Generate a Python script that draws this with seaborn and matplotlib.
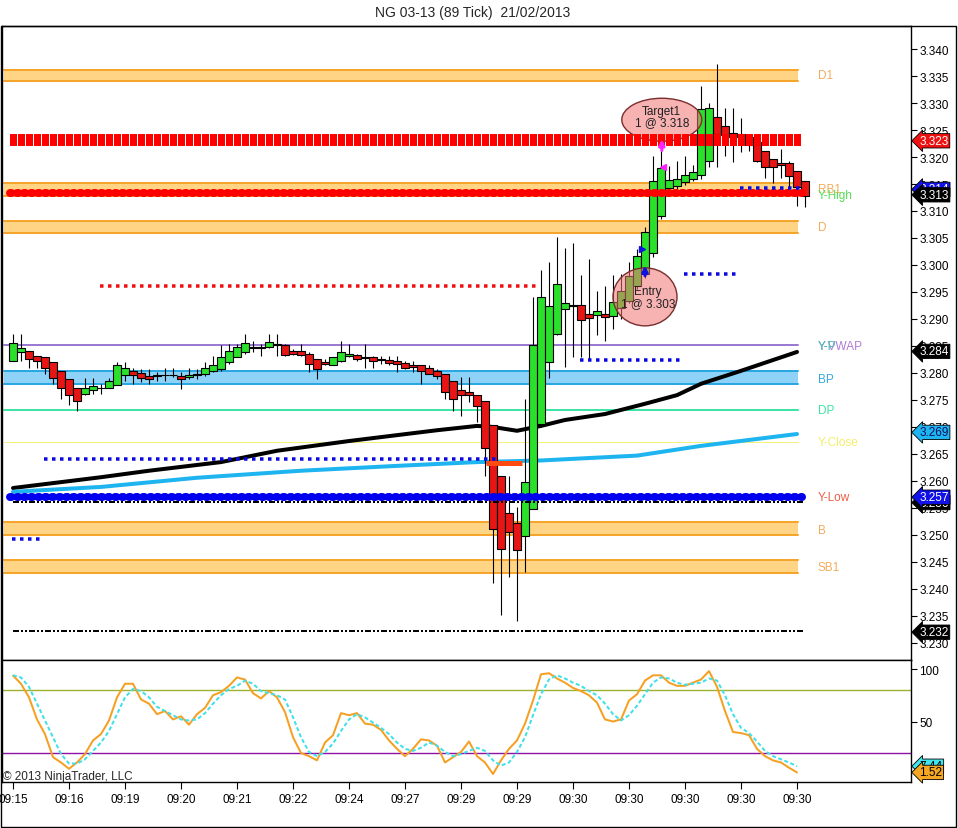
import matplotlib
matplotlib.use("Agg")
import matplotlib.pyplot as plt
import numpy as np
import pandas as pd
import seaborn as sns
from matplotlib.patches import Ellipse, Rectangle

sns.set_theme(style="white")
plt.rcParams["font.family"] = ["Liberation Sans", "DejaVu Sans"]
plt.rcParams["lines.scale_dashes"] = False
plt.rcParams["axes.unicode_minus"] = False

# ---------------- data ----------------
title = "NG 03-13 (89 Tick)  21/02/2013"

bar_open = [3.2822, 3.2838, 3.2841, 3.2832, 3.2829, 3.2821, 3.2804, 3.2788, 3.2772, 3.2761,
            3.2769, 3.2772, 3.2772, 3.2778, 3.2796, 3.2803, 3.2800, 3.2795, 3.2794, 3.2796,
            3.2797, 3.2795, 3.2792, 3.2797, 3.2798, 3.2803, 3.2807, 3.2820, 3.2830, 3.2838,
            3.2848, 3.2846, 3.2848, 3.2854, 3.2851, 3.2841, 3.2840, 3.2836, 3.2825, 3.2820,
            3.2815, 3.2823, 3.2832, 3.2833, 3.2829, 3.2829, 3.2826, 3.2824, 3.2822, 3.2819,
            3.2814, 3.2814, 3.2809, 3.2803, 3.2799, 3.2786, 3.2769, 3.2764, 3.2760, 3.2749,
            3.2704, 3.2609, 3.2540, 3.2523, 3.2499, 3.2548, 3.2706, 3.2820, 3.2872, 3.2918,
            3.2926, 3.2925, 3.2909, 3.2907, 3.2909, 3.2906, 3.2920, 3.2934, 3.2962, 3.2983,
            3.3023, 3.3091, 3.3142, 3.3147, 3.3153, 3.3160, 3.3167, 3.3193, 3.3274, 3.3258,
            3.3245, 3.3243, 3.3237, 3.3227, 3.3212, 3.3196, 3.3188, 3.3188, 3.3175, 3.3156]
bar_high = [3.2872, 3.2872, 3.2841, 3.2832, 3.2829, 3.2821, 3.2804, 3.2788, 3.2772, 3.2790,
            3.2790, 3.2780, 3.2790, 3.2821, 3.2821, 3.2810, 3.2807, 3.2807, 3.2801, 3.2810,
            3.2810, 3.2801, 3.2810, 3.2807, 3.2820, 3.2832, 3.2851, 3.2854, 3.2854, 3.2872,
            3.2860, 3.2854, 3.2872, 3.2872, 3.2854, 3.2844, 3.2854, 3.2838, 3.2826, 3.2826,
            3.2830, 3.2860, 3.2854, 3.2835, 3.2854, 3.2832, 3.2832, 3.2832, 3.2832, 3.2823,
            3.2823, 3.2814, 3.2814, 3.2807, 3.2799, 3.2786, 3.2792, 3.2792, 3.2760, 3.2749,
            3.2704, 3.2609, 3.2610, 3.2551, 3.2752, 3.2940, 3.2991, 3.3005, 3.3051, 3.3031,
            3.3041, 3.2981, 3.3011, 3.2952, 3.2962, 3.2981, 3.2983, 3.3005, 3.3030, 3.3070,
            3.3201, 3.3212, 3.3184, 3.3193, 3.3201, 3.3185, 3.3332, 3.3300, 3.3372, 3.3290,
            3.3290, 3.3272, 3.3243, 3.3233, 3.3212, 3.3196, 3.3215, 3.3192, 3.3175, 3.3156]
bar_low = [3.2822, 3.2822, 3.2810, 3.2810, 3.2798, 3.2780, 3.2751, 3.2741, 3.2730, 3.2759,
           3.2761, 3.2761, 3.2772, 3.2778, 3.2786, 3.2780, 3.2783, 3.2780, 3.2786, 3.2786,
           3.2792, 3.2770, 3.2789, 3.2789, 3.2795, 3.2801, 3.2804, 3.2817, 3.2829, 3.2835,
           3.2838, 3.2832, 3.2847, 3.2832, 3.2832, 3.2833, 3.2832, 3.2801, 3.2789, 3.2814,
           3.2814, 3.2820, 3.2829, 3.2823, 3.2810, 3.2810, 3.2817, 3.2814, 3.2801, 3.2807,
           3.2801, 3.2780, 3.2798, 3.2789, 3.2752, 3.2730, 3.2721, 3.2746, 3.2709, 3.2610,
           3.2411, 3.2351, 3.2422, 3.2340, 3.2431, 3.2548, 3.2700, 3.2790, 3.2870, 3.2811,
           3.2830, 3.2830, 3.2826, 3.2870, 3.2860, 3.2881, 3.2900, 3.2930, 3.2955, 3.2975,
           3.3015, 3.3085, 3.3130, 3.3140, 3.3148, 3.3155, 3.3160, 3.3181, 3.3181, 3.3201,
           3.3191, 3.3210, 3.3212, 3.3190, 3.3162, 3.3152, 3.3162, 3.3144, 3.3110, 3.3107]
bar_close = [3.2855, 3.2846, 3.2825, 3.2823, 3.2810, 3.2790, 3.2772, 3.2759, 3.2748, 3.2773,
             3.2775, 3.2773, 3.2786, 3.2814, 3.2809, 3.2796, 3.2790, 3.2789, 3.2797, 3.2797,
             3.2796, 3.2788, 3.2797, 3.2798, 3.2809, 3.2814, 3.2829, 3.2840, 3.2848, 3.2855,
             3.2846, 3.2848, 3.2858, 3.2852, 3.2833, 3.2836, 3.2833, 3.2817, 3.2807, 3.2817,
             3.2829, 3.2838, 3.2836, 3.2826, 3.2827, 3.2823, 3.2824, 3.2819, 3.2817, 3.2810,
             3.2812, 3.2803, 3.2798, 3.2794, 3.2765, 3.2752, 3.2759, 3.2759, 3.2738, 3.2661,
             3.2511, 3.2474, 3.2505, 3.2472, 3.2598, 3.2852, 3.2940, 3.2924, 3.2965, 3.2930,
             3.2924, 3.2898, 3.2901, 3.2915, 3.2903, 3.2931, 3.2951, 3.2980, 3.3016, 3.3061,
             3.3156, 3.3179, 3.3158, 3.3160, 3.3167, 3.3172, 3.3289, 3.3290, 3.3243, 3.3241,
             3.3237, 3.3237, 3.3222, 3.3193, 3.3181, 3.3181, 3.3186, 3.3164, 3.3144, 3.3127]

time_labels = ["09:15", "09:16", "09:19", "09:20", "09:21", "09:22", "09:24", "09:27",
               "09:29", "09:29", "09:30", "09:30", "09:30", "09:30", "09:30"]

# moving average (black) and VWAP (cyan) sampled at bars
ma_bars = [0, 11, 17, 26, 33, 42, 53, 58, 60, 63, 66, 69, 74, 79, 83, 86, 91, 98]
ma_black = [3.2587, 3.2607, 3.2619, 3.2635, 3.2656, 3.2674, 3.2694, 3.2702, 3.2700, 3.2693,
            3.2702, 3.2713, 3.2724, 3.2743, 3.2759, 3.2780, 3.2804, 3.2839]
vwap_bars = [0, 11, 23, 36, 48, 58, 66, 78, 86, 92, 98]
vwap_cyan = [3.2580, 3.2589, 3.2606, 3.2619, 3.2628, 3.2635, 3.2638, 3.2647, 3.2665, 3.2676, 3.2687]

# stochastics
stoch_k = [93.7, 86, 73, 52, 38, 16, 11, 5, 11, 19,
           32, 38, 51, 73, 86, 86, 71, 67, 57, 60,
           52, 55, 47, 57, 63, 75, 78, 84, 92, 90,
           77, 72, 79, 73, 59, 35, 20, 17, 13, 30,
           37, 58, 56, 58, 48, 47, 42, 32, 24, 17,
           24, 33, 32, 27, 11, 16, 21, 31, 17, 11,
           0, 13, 24, 32, 48, 70, 95, 96, 91, 87,
           82, 79, 75, 68, 52, 50, 52, 70, 76, 89,
           94, 94, 87, 84, 84, 87, 90, 98, 83, 60,
           40, 39, 37, 24, 17, 13, 11, 6, 1.52]
stoch_d = [94, 92, 83, 67, 51, 35, 19, 10, 10, 14,
           22, 30, 41, 57, 73, 81, 79, 73, 64, 60,
           56, 52, 51, 52, 58, 67, 75, 81, 84, 89,
           86, 79, 77, 75, 71, 54, 35, 21, 17, 21,
           29, 41, 52, 57, 54, 49, 44, 38, 30, 24,
           22, 25, 30, 27, 21, 17, 19, 22, 25, 22,
           13, 8, 11, 21, 35, 56, 76, 90, 94, 91,
           87, 84, 79, 75, 67, 57, 51, 56, 65, 76,
           87, 92, 91, 87, 85, 86, 87, 91, 89, 75,
           57, 44, 39, 31, 22, 17, 14, 11, 7.44]
stoch_upper, stoch_lower = 80, 20

# pivot / level bands
band_names = ["D1", "RB1", "D", "B", "SB1"]
band_lo = [3.3341, 3.3128, 3.3059, 3.2500, 3.2430]
band_hi = [3.3361, 3.3152, 3.3081, 3.2524, 3.2454]
bp_lo, bp_hi = 3.2780, 3.2804
y_vwap, dp_level, y_close = 3.2852, 3.2732, 3.2672
red_sq_level, red_dot_level = 3.3231, 3.3133
blue_thick_level = 3.2570
dashdot_levels = [3.2561, 3.2322]
blue_dot_levels = [3.3143, 3.2983, 3.2824, 3.2641, 3.2493]
blue_dot_start = [90.9, 83.9, 70.9, 3.9, -0.1]
blue_dot_end = [98.4, 90.5, 83.4, 60.4, 3.4]
red_dot_short = (10.9, 65.4, 3.2961)
orange_short = (59.1, 63.6, 3.2633)

label_names = ["D1", "RB1", "Y-High", "D", "Y-VWAP", "BP", "DP", "Y-Close", "Y-Low", "B", "SB1"]
label_prices = [3.3352, 3.3141, 3.3130, 3.3070, 3.2850, 3.2789, 3.2731, 3.2672, 3.2570, 3.2509, 3.2441]
label_colors = ["#F2AC5C", "#F2AC5C", "#55DD55", "#F2AC5C", "#B07AD6", "#3AA6DE",
                "#3FE3A5", "#F3EE6A", "#EE5E44", "#F2AC5C", "#F2AC5C"]

tag_values = [3.323, 3.314, 3.313, 3.284, 3.269, 3.256, 3.257, 3.232]
tag_face = ["#EE1111", "#1010E8", "#000000", "#000000", "#1EB4F0", "#000000", "#1010E8", "#000000"]
tag_text = ["white", "white", "white", "white", "#101060", "white", "white", "white"]
stoch_tag_values = [7.44, 1.52]
stoch_tag_face = ["#40E6EE", "#F5A623"]

# trade markers
entry = dict(bar=79.0, price=3.2941, text="Entry\n1 @ 3.303")
target = dict(bar=81.1, price=3.3269, text="Target1\n1 @ 3.318")

# ---------------- figure ----------------
W, H = 958, 829
P = 0.72  # points per pixel
fig = plt.figure(figsize=(W / 100, H / 100), dpi=100)
fig.patch.set_facecolor("white")
ax = fig.add_axes([2 / W, 168 / H, 909 / W, 634 / H])
ax2 = fig.add_axes([2 / W, 46 / H, 909 / W, 122 / H], sharex=ax)

df = pd.DataFrame({"o": bar_open, "h": bar_high, "l": bar_low, "c": bar_close})
df["i"] = np.arange(len(df))
up = df["c"] >= df["o"]
body_lo = np.minimum(df["o"], df["c"])
body_h = np.maximum(np.abs(df["c"] - df["o"]), 0.00004)
colors = np.where(up, "#2BE02B", "#E81515")

ax.vlines(df["i"], df["l"], df["h"], color="black", lw=0.8, zorder=3)
ax.bar(df["i"], body_h, bottom=body_lo, width=1.05, color=colors,
       edgecolor="black", linewidth=0.8, zorder=3.1)

# bands
x_band = [-1.125, 98.1]
for lo, hi in zip(band_lo, band_hi):
    ax.fill_between(x_band, lo, hi, color="#FFD585", lw=0, zorder=1)
    ax.plot(x_band, [lo, lo], color="#F5A52C", lw=2 * P, zorder=1.1)
    ax.plot(x_band, [hi, hi], color="#F5A52C", lw=2 * P, zorder=1.1)
ax.fill_between(x_band, bp_lo, bp_hi, color="#8ED3F7", lw=0, zorder=1)
ax.plot(x_band, [bp_lo, bp_lo], color="#2AA8E2", lw=2 * P, zorder=1.1)
ax.plot(x_band, [bp_hi, bp_hi], color="#2AA8E2", lw=2 * P, zorder=1.1)
ax.plot(x_band, [y_vwap, y_vwap], color="#9B7AD2", lw=2 * P, zorder=1.2)
ax.plot(x_band, [dp_level, dp_level], color="#3FE3A5", lw=2 * P, zorder=1.2)
ax.plot(x_band, [y_close, y_close], color="#F5F07A", lw=1 * P, zorder=1.2)

# moving averages
sns.lineplot(x=ma_bars, y=ma_black, ax=ax, color="black", lw=4 * P, zorder=2.5)
sns.lineplot(x=vwap_bars, y=vwap_cyan, ax=ax, color="#1EB4F0", lw=4 * P, zorder=2.5)

# level lines on top of candles
x_lvl = [-0.375, 98.6]
ax.plot(x_lvl, [red_sq_level] * 2, color="#FF0000", lw=12 * P, dashes=(7 * P, 1 * P),
        dash_capstyle="butt", zorder=4)
ax.plot(x_lvl, [red_dot_level] * 2, color="#FF0000", lw=8 * P, dashes=(1.5 * P, 5.5 * P),
        dash_capstyle="round", zorder=4)
ax.plot(x_lvl, [blue_thick_level] * 2, color="#0000EE", lw=8 * P, dashes=(1.5 * P, 5.5 * P),
        dash_capstyle="round", zorder=4)
for lv in dashdot_levels:
    ax.plot([0, 98.75], [lv, lv], color="black", lw=2 * P,
            dashes=(6 * P, 2 * P, 2 * P, 2 * P, 2 * P, 2 * P), dash_capstyle="butt", zorder=3.9)
for lv, s, e in zip(blue_dot_levels, blue_dot_start, blue_dot_end):
    ax.plot([s, e], [lv, lv], color="#0A0AE0", lw=3.5 * P, dashes=(3.5 * P, 4.5 * P),
            dash_capstyle="butt", zorder=4.1)
ax.plot(red_dot_short[:2], [red_dot_short[2]] * 2, color="#EE1010", lw=3.5 * P,
        dashes=(3.5 * P, 4.5 * P), dash_capstyle="butt", zorder=4.1)
ax.plot(orange_short[:2], [orange_short[2]] * 2, color="#FF4A12", lw=5 * P,
        solid_capstyle="butt", zorder=4.1)

# trade ellipses
for t, w, h in ((entry, 8.0, 0.01074), (target, 10.0, 0.00796)):
    ax.add_patch(Ellipse((t["bar"], t["price"]), w, h, fc=(0.95, 0.45, 0.45, 0.55),
                         ec="#7A2E2E", lw=1, zorder=3.5))
ax.text(entry["bar"] + 0.4, entry["price"], entry["text"], ha="center", va="center",
        fontsize=8.5, color="#202020", zorder=6, linespacing=1.0)
ax.text(target["bar"], target["price"] + 0.0006, target["text"], ha="center", va="center",
        fontsize=8.5, color="#202020", zorder=6, linespacing=1.0)

# signal arrows
ax.annotate("", xy=(entry["bar"], 3.3004), xytext=(entry["bar"], 3.2975),
            arrowprops=dict(arrowstyle="-|>", color="#1010E0", lw=2.2, mutation_scale=8), zorder=6)
ax.plot([78.6], [3.3030], marker=">", color="#1010E0", ms=5, zorder=6)
ax.annotate("", xy=(target["bar"], 3.3238), xytext=(target["bar"], 3.3207),
            arrowprops=dict(arrowstyle="-|>", color="#FF22FF", lw=2.2, mutation_scale=8), zorder=6)
ax.plot([81.3], [3.3181], marker="<", color="#FF22FF", ms=5, zorder=6)

# right-hand labels
for name, pr, col in zip(label_names, label_prices, label_colors):
    ax.text(100.6, pr, name, color=col, fontsize=8.5, va="center", ha="left", zorder=6)
ax.text(100.6, label_prices[4], "Y-P", color="#46BDBD", fontsize=8.5, va="center",
        ha="left", zorder=6.1)

# price axis
ax.set_xlim(-1.375, 112.25)
ax.set_ylim(3.22685, 3.34426)
ax.yaxis.tick_right()
ax.set_yticks(np.round(np.arange(3.230, 3.3401, 0.005), 3))
ax.set_yticklabels([f"{v:.3f}" for v in np.arange(3.230, 3.3401, 0.005)])
ax.tick_params(axis="y", which="both", right=True, left=False, labelright=True, labelleft=False,
               direction="out", length=4, width=0.8, colors="black", labelsize=8.5, pad=2)
ax.tick_params(axis="x", bottom=False, labelbottom=False)
for sp in ax.spines.values():
    sp.set_color("black")
    sp.set_linewidth(1)
ax.set_facecolor("white")
ax.grid(False)

for k, (v, fc, tc) in enumerate(zip(tag_values, tag_face, tag_text)):
    ax.annotate(f"{v:.3f}", xy=(1.0, v), xycoords=("axes fraction", "data"),
                xytext=(6, 0), textcoords="offset points", ha="left", va="center",
                fontsize=8.5, color=tc, zorder=10 + k, annotation_clip=False,
                bbox=dict(boxstyle="larrow,pad=0.1", fc=fc, ec="black", lw=0.6))

# stochastic panel
idx = np.arange(len(stoch_k))
sns.lineplot(x=idx, y=stoch_k, ax=ax2, color="#F5A023", lw=2 * P, zorder=3)
sns.lineplot(x=idx, y=stoch_d, ax=ax2, color="#40E0E8", lw=2 * P, zorder=3.1,
             dashes=False).lines[-1].set_dashes((4 * P, 2.5 * P))
ax2.axhline(stoch_upper, color="#9DB22E", lw=1, zorder=2)
ax2.axhline(stoch_lower, color="#8E12A8", lw=1, zorder=2)
ax2.set_ylim(-7.6, 108.6)
ax2.yaxis.tick_right()
ax2.set_yticks([50, 100])
ax2.set_yticklabels(["50", "100"])
ax2.tick_params(axis="y", right=True, left=False, labelright=True, labelleft=False,
                direction="out", length=4, width=0.8, colors="black", labelsize=8.5, pad=2)
ax2.set_xticks(list(range(0, 7 * len(time_labels), 7)))
ax2.set_xticklabels(time_labels)
ax2.tick_params(axis="x", bottom=True, direction="out", length=5, width=0.8,
                colors="black", labelsize=8.5, pad=3)
for sp in ax2.spines.values():
    sp.set_color("black")
    sp.set_linewidth(1)
ax2.set_facecolor("white")
ax2.grid(False)
ax2.set_xlabel("")
ax2.set_ylabel("")
ax.set_xlabel("")
ax.set_ylabel("")

for k, (v, fc) in enumerate(zip(stoch_tag_values, stoch_tag_face)):
    ax2.annotate(f"{v:.2f}", xy=(1.0, v), xycoords=("axes fraction", "data"),
                 xytext=(6, 0), textcoords="offset points", ha="left", va="center",
                 fontsize=8.5, color="black", zorder=10 + k, annotation_clip=False,
                 bbox=dict(boxstyle="larrow,pad=0.1", fc=fc, ec="black", lw=0.6))

fig.text(3 / W, 1 - 777 / H, "© 2013 NinjaTrader, LLC", fontsize=8.5, va="center", ha="left")
fig.text(473 / W, 1 - 13 / H, title, fontsize=10, va="center", ha="center")
fig.add_artist(Rectangle((1 / W, 1 / H), 955 / W, 801 / H, transform=fig.transFigure,
                         fill=False, ec="black", lw=1))

fig.savefig("out.png", dpi=100, facecolor="white")
